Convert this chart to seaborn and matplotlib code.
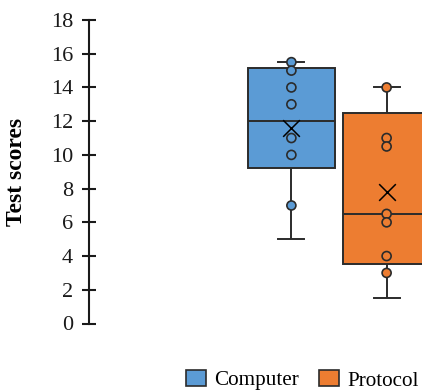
import numpy as np
import pandas as pd
import matplotlib
matplotlib.use("Agg")
import matplotlib.pyplot as plt
import seaborn as sns
from matplotlib.patches import Patch

# ---- data ----
groups = ["Computer", "Protocol"]
colors = ["#5B9BD5", "#ED7D31"]
# five-number summaries: min, Q1, median, Q3, max
computer_box = [5.0, 9.25, 12.0, 15.15, 15.5]
protocol_box = [1.5, 3.5, 6.5, 12.5, 14.0]
computer_mean = [11.6]
protocol_mean = [7.8]
computer_points = [15.5, 15, 14, 13, 11, 10, 7]
protocol_points = [14, 11, 10.5, 6.5, 6, 4, 3]
y_ticks = list(range(0, 19, 2))
y_label = "Test scores"

def frame(a, b):
    return pd.DataFrame({
        "cat": [""] * (len(a) + len(b)),
        "group": [groups[0]] * len(a) + [groups[1]] * len(b),
        "value": list(a) + list(b),
    })

box_df = frame(computer_box, protocol_box)
pts_df = frame(computer_points, protocol_points)
mean_df = frame(computer_mean, protocol_mean)

plt.rcParams["font.family"] = ["Liberation Serif", "DejaVu Serif"]
edge = "#2b2b2b"

fig = plt.figure(figsize=(4.22, 3.91), dpi=100)
ax = fig.add_axes([89 / 422, (391 - 323.5) / 391, 500 / 422, 303.5 / 391])

sns.boxplot(data=box_df, x="cat", y="value", hue="group", hue_order=groups,
            palette=colors, saturation=1, whis=(0, 100), width=0.8, gap=0.087,
            linewidth=1.4, linecolor=edge, showfliers=False, legend=False,
            capwidths=0.11, ax=ax)
sns.stripplot(data=pts_df, x="cat", y="value", hue="group", hue_order=groups,
              palette=colors, dodge=True, jitter=False, size=6.5, linewidth=1.2,
              edgecolor=edge, legend=False, zorder=3, ax=ax)
sns.stripplot(data=mean_df, x="cat", y="value", hue="group", hue_order=groups,
              palette=["black", "black"], dodge=True, jitter=False, marker="x",
              size=12, linewidth=1.1, edgecolor="black", legend=False, zorder=4, ax=ax)

ax.set_xlim(-1.05, 1.05)
ax.set_ylim(0, 18)
ax.set_yticks(y_ticks)
ax.set_yticklabels([str(t) for t in y_ticks], fontsize=16)
ax.set_xticks([])
ax.set_xlabel("")
for s in ["top", "right", "bottom"]:
    ax.spines[s].set_visible(False)
ax.spines["left"].set_linewidth(1.5)
ax.spines["left"].set_color("#1a1a1a")
ax.tick_params(axis="y", direction="inout", length=10, width=1.5,
               color="#1a1a1a", pad=6.5, labelcolor="#1a1a1a")
ax.set_ylabel(y_label, fontsize=17, fontweight="bold")
ax.yaxis.set_label_coords(-0.124, 0.5)
ax.patch.set_alpha(0)

handles = [Patch(facecolor=c, edgecolor=edge, linewidth=1.2, label=g)
           for g, c in zip(groups, colors)]
fig.legend(handles=handles, loc="lower left", bbox_to_anchor=(186 / 422, 0.5 / 391),
           ncol=2, frameon=False, fontsize=15.2, handlelength=0.95, handleheight=0.8,
           handletextpad=0.38, columnspacing=0.95, borderpad=0, borderaxespad=0)

fig.savefig("out.png", dpi=100)
